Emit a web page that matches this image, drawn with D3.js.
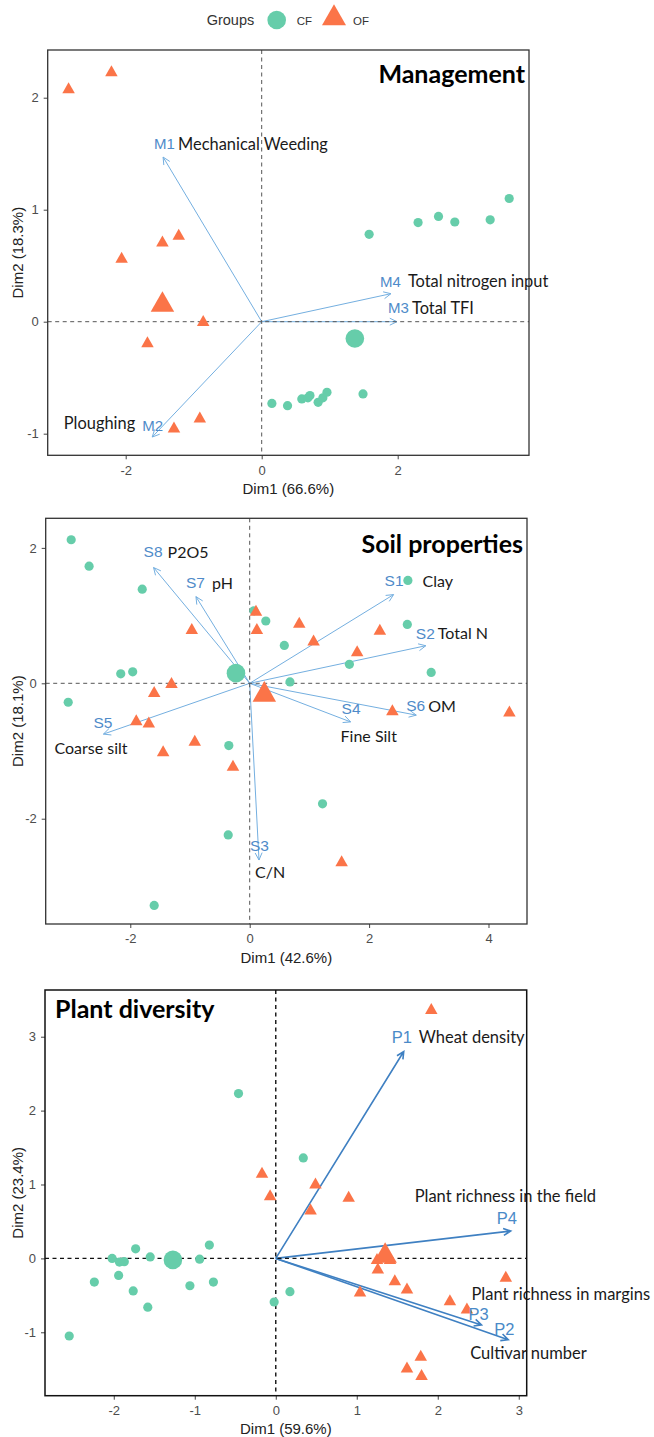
<!DOCTYPE html>
<html>
<head>
<meta charset="utf-8">
<script src="https://cdn.jsdelivr.net/npm/d3@7"></script>
<style>
  body { margin: 0; background: #fff; }
  svg text { font-family: "Liberation Sans", Arial, sans-serif; }
  .name-label { font-family: Lato, "Open Sans", sans-serif; fill: #1a1a1a; }
  .title { font-family: Lato, "Open Sans", sans-serif; font-weight: 700; fill: #000; }
</style>
</head>
<body>
<svg id="chart"></svg>
<script>
// ---- data ----
const groups = ['CF', 'OF'];

// Management PCA (Dim1, Dim2)
const mgmtCF = [[0.15, -0.73], [0.38, -0.75], [0.59, -0.69], [0.68, -0.68], [0.71, -0.66],
  [0.83, -0.72], [0.90, -0.68], [0.96, -0.63], [1.49, -0.645], [1.58, 0.78], [2.30, 0.885],
  [2.60, 0.94], [2.84, 0.89], [3.36, 0.91], [3.64, 1.10]];
const mgmtOF = [[-2.84, 2.09], [-2.21, 2.24], [-1.46, 0.72], [-1.22, 0.78], [-2.06, 0.575],
  [-0.86, 0.01], [-1.68, -0.18], [-0.91, -0.85], [-1.29, -0.94]];
const mgmtMeans = [[1.37, -0.15], [-1.46, 0.18]];
const mgmtCodes = ['M1', 'M2', 'M3', 'M4'];
const mgmtNames = ['Mechanical Weeding', 'Ploughing', 'Total TFI', 'Total nitrogen input'];
const mgmtVars = [[-1.45, 1.47], [-1.61, -1.03], [1.99, 0.0], [1.90, 0.25]];
const mgmtXTicks = [-2, 0, 2];
const mgmtYTicks = [-1, 0, 1, 2];

// Soil properties PCA
const soilCF = [[-2.99, 2.12], [-2.69, 1.73], [-1.80, 1.39], [-2.16, 0.14], [-1.96, 0.17],
  [-3.04, -0.28], [-0.35, -0.92], [-0.36, -2.24], [-1.60, -3.28], [1.22, -1.78], [0.675, 0.02],
  [0.58, 0.56], [0.27, 0.92], [0.07, 1.07], [1.67, 0.28], [2.65, 1.52], [2.64, 0.87], [3.04, 0.16]];
const soilOF = [[-0.97, 0.81], [0.105, 1.08], [0.12, 0.81], [0.83, 0.90], [1.07, 0.64],
  [-1.31, 0.01], [-1.60, -0.12], [-1.90, -0.54], [-1.69, -0.57], [-0.92, -0.84], [-1.45, -0.995],
  [-0.28, -1.21], [2.18, 0.80], [1.80, 0.48], [2.39, -0.39], [4.35, -0.41], [1.54, -2.62]];
const soilMeans = [[-0.23, 0.15], [0.245, -0.12]];
const soilCodes = ['S1', 'S2', 'S3', 'S4', 'S5', 'S6', 'S7', 'S8'];
const soilNames = ['Clay', 'Total N', 'C/N', 'Fine Silt', 'Coarse silt', 'OM', 'pH', 'P2O5'];
const soilVars = [[2.41, 1.31], [2.95, 0.555], [0.156, -2.61], [1.69, -0.57], [-2.45, -0.75],
  [2.79, -0.47], [-0.90, 1.28], [-1.61, 1.71]];
const soilXTicks = [-2, 0, 2, 4];
const soilYTicks = [-2, 0, 2];

// Plant diversity PCA
const plantCF = [[-0.46, 2.23], [0.34, 1.36], [-0.82, 0.18], [-1.73, 0.13], [-2.02, 0.0],
  [-1.93, -0.05], [-1.87, -0.045], [-1.55, 0.02], [-0.94, -0.01], [-2.24, -0.32], [-1.94, -0.23],
  [-1.76, -0.44], [-1.06, -0.37], [-0.77, -0.32], [-1.58, -0.66], [-2.55, -1.05], [-0.02, -0.59],
  [0.175, -0.45]];
const plantOF = [[-0.17, 1.165], [-0.07, 0.86], [0.49, 1.02], [0.43, 0.67], [1.92, 3.38],
  [0.90, 0.84], [1.25, 0.0], [1.41, 0.0], [1.26, -0.13], [1.47, -0.29], [1.62, -0.40], [1.04, -0.44],
  [2.84, -0.24], [2.15, -0.56], [2.36, -0.67], [1.79, -1.31], [1.62, -1.47], [1.80, -1.57]];
const plantMeans = [[-1.27, -0.02], [1.35, 0.08]];
const plantCodes = ['P1', 'P2', 'P3', 'P4'];
const plantNames = ['Wheat density', 'Cultivar number', 'Plant richness in margins',
  'Plant richness in the field'];
const plantVars = [[1.58, 2.80], [2.87, -1.10], [2.54, -0.90], [2.90, 0.37]];
const plantXTicks = [-2, -1, 0, 1, 2, 3];
const plantYTicks = [-1, 0, 1, 2, 3];

// ---- layout (pixel offsets of labels from the arrow tips: code [dx,dy], name [dx,dy,anchor]) ----
const mgmtLabelPos = [
  { code: [-9, -14], name: [15, -14, 'start'] },
  { code: [-10, -12], name: [-17, -15, 'end'] },
  { code: [-9, -14], name: [15, -14, 'start'] },
  { code: [-11, -12], name: [17, -13, 'start'] },
];
const soilLabelPos = [
  { code: [-9, -14], name: [29, -14, 'start'] },
  { code: [-10, -12], name: [12, -13, 'start'] },
  { code: [-9, -15], name: [-4, 11, 'start'] },
  { code: [-9, -13], name: [-10, 14, 'start'] },
  { code: [-10, -12], name: [-49, 13, 'start'] },
  { code: [-10, -10], name: [12, -10, 'start'] },
  { code: [-10, -14], name: [16, -14, 'start'] },
  { code: [-10, -16], name: [14, -16, 'start'] },
];
const plantLabelPos = [
  { code: [-12, -14], name: [15, -14, 'start'] },
  { code: [-14, -11], name: [-38, 13, 'start'] },
  { code: [-13, -11], name: [-10, -31, 'start'] },
  { code: [-14, -13], name: [-96, -35, 'start'] },
];

const config = {
  width: 654,
  height: 1437,
  colors: { CF: '#66cdaa', OF: '#fb7448' },
  pointR: 4.6, meanR: 9.3, triW: 12.5, meanTriW: 23.5,
  tickFont: 13, axisFont: 15, titleFont: 25,
};

const panels = [
  {
    title: 'Management', titleAnchor: 'end', titleY: 73,
    box: { left: 47.7, top: 50, right: 529, bottom: 455.3 },
    xDomain: [-3.147, 3.931], yDomain: [-1.193, 2.426],
    xTicks: mgmtXTicks, yTicks: mgmtYTicks,
    xLabel: 'Dim1 (66.6%)', yLabel: 'Dim2 (18.3%)',
    cf: mgmtCF, of: mgmtOF, means: mgmtMeans,
    codes: mgmtCodes, names: mgmtNames, vars: mgmtVars, labelPos: mgmtLabelPos,
    nameFont: 16.4, codeFont: 15,
    arrowColor: '#74afe0', arrowWidth: 1, codeColor: '#4f8bc9',
    refColor: '#555', refWidth: 1, boxColor: '#333', boxWidth: 1.3,
  },
  {
    title: 'Soil properties', titleAnchor: 'end', titleY: 543,
    box: { left: 45.7, top: 518.3, right: 527, bottom: 924 },
    xDomain: [-3.417, 4.645], yDomain: [-3.555, 2.437],
    xTicks: soilXTicks, yTicks: soilYTicks,
    xLabel: 'Dim1 (42.6%)', yLabel: 'Dim2 (18.1%)',
    cf: soilCF, of: soilOF, means: soilMeans,
    codes: soilCodes, names: soilNames, vars: soilVars, labelPos: soilLabelPos,
    nameFont: 16, codeFont: 15.5,
    arrowColor: '#74afe0', arrowWidth: 1, codeColor: '#4f8bc9',
    refColor: '#555', refWidth: 1, boxColor: '#333', boxWidth: 1.3,
  },
  {
    title: 'Plant diversity', titleAnchor: 'start', titleY: 1008,
    box: { left: 45, top: 990, right: 526.7, bottom: 1395.7 },
    xDomain: [-2.849, 3.098], yDomain: [-1.858, 3.632],
    xTicks: plantXTicks, yTicks: plantYTicks,
    xLabel: 'Dim1 (59.6%)', yLabel: 'Dim2 (23.4%)',
    cf: plantCF, of: plantOF, means: plantMeans,
    codes: plantCodes, names: plantNames, vars: plantVars, labelPos: plantLabelPos,
    nameFont: 16.5, codeFont: 16.5,
    arrowColor: '#3f80c2', arrowWidth: 1.6, codeColor: '#4a8ac8',
    refColor: '#111', refWidth: 1.4, boxColor: '#111', boxWidth: 1.5,
  },
];

// ---- drawing ----
const svg = d3.select('#chart').attr('width', config.width).attr('height', config.height);

function triangle(cx, cy, w) {
  const h = w * 0.88;
  return `M${cx},${cy - h / 2}L${cx + w / 2},${cy + h / 2}L${cx - w / 2},${cy + h / 2}Z`;
}

// legend
const legend = svg.append('g');
legend.append('text').attr('x', 206.7).attr('y', 20).attr('dominant-baseline', 'central')
  .attr('font-size', 14.5).attr('fill', '#333').text('Groups');
legend.append('circle').attr('cx', 276.7).attr('cy', 20).attr('r', config.meanR)
  .attr('fill', config.colors.CF);
legend.append('text').attr('x', 296.7).attr('y', 20.5).attr('dominant-baseline', 'central')
  .attr('font-size', 11.5).attr('fill', '#333').text(groups[0]);
legend.append('path').attr('d', triangle(334, 14.7, 24)).attr('fill', config.colors.OF);
legend.append('text').attr('x', 353).attr('y', 20.5).attr('dominant-baseline', 'central')
  .attr('font-size', 11.5).attr('fill', '#333').text(groups[1]);

const tickFmt = (d) => String(d);

panels.forEach((p) => {
  const b = p.box;
  const x = d3.scaleLinear().domain(p.xDomain).range([b.left, b.right]);
  const y = d3.scaleLinear().domain(p.yDomain).range([b.bottom, b.top]);
  const g = svg.append('g');

  // axes
  const xAxis = g.append('g').attr('transform', `translate(0,${b.bottom})`)
    .call(d3.axisBottom(x).tickValues(p.xTicks).tickFormat(tickFmt).tickSize(4).tickPadding(6));
  const yAxis = g.append('g').attr('transform', `translate(${b.left},0)`)
    .call(d3.axisLeft(y).tickValues(p.yTicks).tickFormat(tickFmt).tickSize(4).tickPadding(5));
  [xAxis, yAxis].forEach((a) => {
    a.select('.domain').remove();
    a.selectAll('line').attr('stroke', '#444');
    a.selectAll('text').attr('font-size', config.tickFont).attr('fill', '#4d4d4d')
      .attr('font-family', '"Liberation Sans", Arial, sans-serif');
  });

  g.append('text').attr('x', (b.left + b.right) / 2).attr('y', b.bottom + 33)
    .attr('text-anchor', 'middle').attr('dominant-baseline', 'central')
    .attr('font-size', config.axisFont).attr('fill', '#222').text(p.xLabel);
  g.append('text')
    .attr('transform', `translate(17,${(b.top + b.bottom) / 2}) rotate(-90)`)
    .attr('text-anchor', 'middle').attr('dominant-baseline', 'central')
    .attr('font-size', config.axisFont).attr('fill', '#222').text(p.yLabel);

  // arrows
  p.vars.forEach((v) => {
    const x0 = x(0), y0 = y(0), x1 = x(v[0]), y1 = y(v[1]);
    const ang = Math.atan2(y1 - y0, x1 - x0);
    const len = 8, spread = Math.PI / 7;
    g.append('path')
      .attr('d', `M${x0},${y0}L${x1},${y1}` +
        `M${x1 - len * Math.cos(ang - spread)},${y1 - len * Math.sin(ang - spread)}L${x1},${y1}` +
        `L${x1 - len * Math.cos(ang + spread)},${y1 - len * Math.sin(ang + spread)}`)
      .attr('fill', 'none').attr('stroke', p.arrowColor).attr('stroke-width', p.arrowWidth);
  });

  // reference lines
  g.append('line').attr('x1', b.left).attr('x2', b.right).attr('y1', y(0)).attr('y2', y(0))
    .attr('stroke', p.refColor).attr('stroke-width', p.refWidth).attr('stroke-dasharray', '4,3.5');
  g.append('line').attr('x1', x(0)).attr('x2', x(0)).attr('y1', b.top).attr('y2', b.bottom)
    .attr('stroke', p.refColor).attr('stroke-width', p.refWidth).attr('stroke-dasharray', '4,3.5');

  // individuals
  g.selectAll('.cf').data(p.cf).join('circle').attr('class', 'cf')
    .attr('cx', (d) => x(d[0])).attr('cy', (d) => y(d[1])).attr('r', config.pointR)
    .attr('fill', config.colors.CF);
  g.selectAll('.of').data(p.of).join('path').attr('class', 'of')
    .attr('d', (d) => triangle(x(d[0]), y(d[1]), config.triW)).attr('fill', config.colors.OF);
  g.append('circle').attr('cx', x(p.means[0][0])).attr('cy', y(p.means[0][1]))
    .attr('r', config.meanR).attr('fill', config.colors.CF);
  g.append('path').attr('d', triangle(x(p.means[1][0]), y(p.means[1][1]), config.meanTriW))
    .attr('fill', config.colors.OF);

  // variable labels
  p.vars.forEach((v, i) => {
    const tx = x(v[0]), ty = y(v[1]);
    const lp = p.labelPos[i];
    g.append('text').attr('x', tx + lp.code[0]).attr('y', ty + lp.code[1])
      .attr('dominant-baseline', 'central').attr('font-size', p.codeFont)
      .attr('fill', p.codeColor).text(p.codes[i]);
    g.append('text').attr('class', 'name-label')
      .attr('x', tx + lp.name[0]).attr('y', ty + lp.name[1])
      .attr('text-anchor', lp.name[2]).attr('dominant-baseline', 'central')
      .attr('font-size', p.nameFont).text(p.names[i]);
  });

  // frame and title
  g.append('rect').attr('x', b.left).attr('y', b.top)
    .attr('width', b.right - b.left).attr('height', b.bottom - b.top)
    .attr('fill', 'none').attr('stroke', p.boxColor).attr('stroke-width', p.boxWidth);
  g.append('text').attr('class', 'title')
    .attr('x', p.titleAnchor === 'end' ? b.right - 4 : b.left + 10)
    .attr('y', p.titleY).attr('text-anchor', p.titleAnchor).attr('dominant-baseline', 'central')
    .attr('font-size', config.titleFont).text(p.title);
});
</script>
</body>
</html>
